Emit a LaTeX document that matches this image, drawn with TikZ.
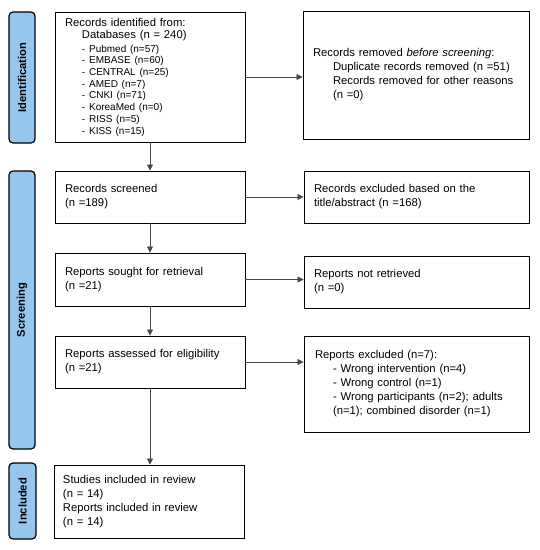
\documentclass[tikz,border=0pt]{standalone}
\usepackage{fontspec}
\setmainfont{Liberation Sans}
\usetikzlibrary{arrows.meta}
\definecolor{phase}{RGB}{150,198,235}
\definecolor{connc}{RGB}{70,70,70}
\setlength{\parindent}{0pt}
\begin{document}
\begin{tikzpicture}[x=1pt,y=-1pt,
  box/.style={draw=black, line width=0.9pt, rectangle, inner xsep=10pt, inner ysep=0pt, align=left, font=\fontsize{11.3}{14}\selectfont},
  phasebox/.style={draw=black, line width=1.2pt, fill=phase, rounded corners=4pt, rotate=90, inner sep=0pt, font=\bfseries\fontsize{11.2}{13}\selectfont},
  conn/.style={draw=connc, line width=0.7pt, -{Triangle[length=6pt,width=6pt]}},
]
\useasboundingbox (0,0) rectangle (540,550);
% phase labels
\node[phasebox, minimum width=131pt, minimum height=26pt] (pid) at (22,77.5) {Identification};
\node[phasebox, minimum width=278pt, minimum height=26pt] (pscr) at (22,310) {Screening};
\node[phasebox, minimum width=76pt, minimum height=27pt] (pinc) at (22.5,501) {Included};
% main boxes
\node[box, minimum width=190pt, minimum height=130pt, text width=170pt] (b1) at (150,77) {%
{\fontsize{11.3}{12.7}\selectfont Records identified from:\par
{\leftskip=17pt Databases (n = 240)\par}}
\vspace{1.6pt}
{\fontsize{10}{11.7}\selectfont\leftskip=17pt - Pubmed (n=57)\\
- EMBASE (n=60)\\
- CENTRAL (n=25)\\
- AMED (n=7)\\
- CNKI (n=71)\\
- KoreaMed (n=0)\\
- RISS (n=5)\\
- KISS (n=15)\par}};
\node[box, minimum width=226pt, minimum height=128pt, text width=206pt] (rem) at (416,75) {%
Records removed \textit{before screening}:\par
{\leftskip=20pt Duplicate records removed (n =51)\\
Records removed for other reasons\\
(n =0)\par}};
\node[box, minimum width=190pt, minimum height=52pt, text width=170pt] (scr) at (150,197) {%
Records screened\\(n =189)};
\node[box, minimum width=225pt, minimum height=52pt, text width=205pt] (exc) at (416.5,197) {%
Records excluded based on the\\title/abstract (n =168)};
\node[box, minimum width=190pt, minimum height=53pt, text width=170pt] (sought) at (150,279.5) {%
Reports sought for retrieval\\(n =21)};
\node[box, minimum width=225pt, minimum height=52pt, text width=205pt] (notret) at (416.5,282) {%
Reports not retrieved\\(n =0)};
\node[box, minimum width=190pt, minimum height=52pt, text width=170pt] (assess) at (150,362) {%
Reports assessed for eligibility\\(n =21)};
\node[box, inner xsep=11pt, minimum width=225pt, minimum height=96pt, text width=203pt] (repexc) at (416.5,384) {%
Reports excluded (n=7):\par
{\leftskip=18pt - Wrong intervention (n=4)\\
- Wrong control (n=1)\\
- Wrong participants (n=2); adults\\
(n=1); combined disorder (n=1)\par}};
\node[box, inner xsep=9pt, minimum width=190pt, minimum height=73pt, text width=172pt] (incl) at (149,501.5) {%
Studies included in review\\(n = 14)\\Reports included in review\\(n = 14)};
% connectors
\draw[conn] (b1.east) -- (rem.west |- b1.east);
\draw[conn] (scr.east) -- (exc.west |- scr.east);
\draw[conn] (sought.east) -- (notret.west |- sought.east);
\draw[conn] (assess.east) -- (repexc.west |- assess.east);
\draw[conn] (b1.south) -- (scr.north);
\draw[conn] (scr.south) -- (sought.north);
\draw[conn] (sought.south) -- (assess.north);
\draw[conn] (assess.south) -- (incl.north -| assess.south);
\end{tikzpicture}
\end{document}
